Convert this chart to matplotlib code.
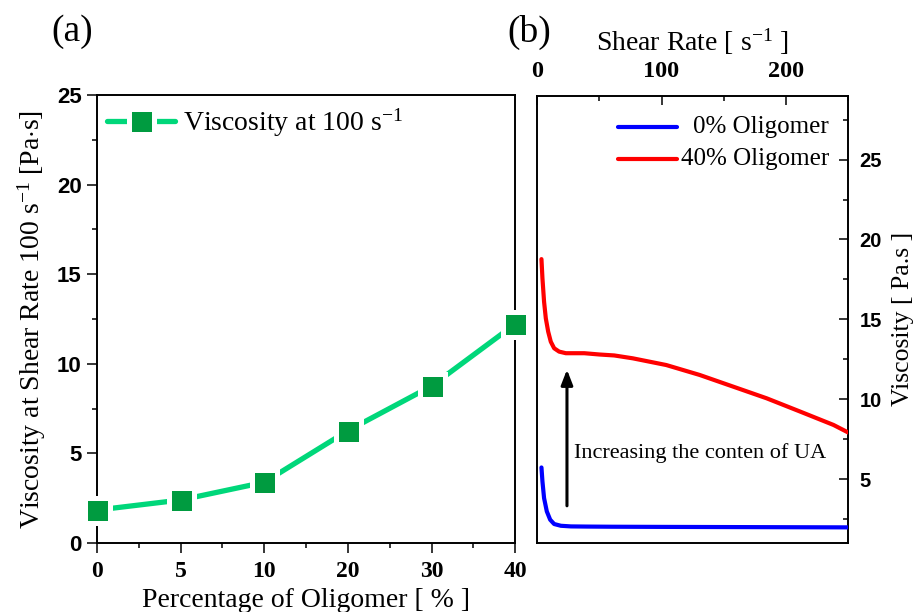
import numpy as np
import matplotlib
matplotlib.use("Agg")
import matplotlib.pyplot as plt
from matplotlib.ticker import MultipleLocator

plt.rcParams["font.family"] = ["Liberation Serif", "DejaVu Serif"]
plt.rcParams["mathtext.fontset"] = "custom"
plt.rcParams["mathtext.rm"] = "Liberation Serif"
plt.rcParams["mathtext.it"] = "Liberation Serif:italic"
plt.rcParams["mathtext.bf"] = "Liberation Serif:bold"

# (a) viscosity at 100 1/s versus oligomer content
oligomer_pct = ["0", "5", "10", "20", "30", "40"]
visc_100 = [1.84, 2.40, 3.39, 6.27, 8.76, 12.22]
visc_ticks = [0, 5, 10, 15, 20, 25]

# (b) flow curves
shear_0 = [3.5, 4.3, 5.6, 7.8, 10.5, 13.7, 19.1, 27.2, 40, 60, 100, 150, 200, 250]
visc_0 = [5.73, 4.85, 3.81, 2.98, 2.46, 2.19, 2.08, 2.04, 2.03, 2.02, 2.01, 2.00, 1.99, 1.98]

shear_40 = [3.5, 4.3, 5.6, 7.0, 8.9, 11.0, 13.7, 17.7, 23.1, 37.9, 50, 62, 76.9,
            103.8, 130.6, 157.5, 184.4, 211.3, 238.2, 250.2]
visc_40 = [18.77, 17.56, 16.10, 15.06, 14.23, 13.60, 13.19, 12.98, 12.88, 12.88,
           12.80, 12.74, 12.56, 12.14, 11.52, 10.79, 10.06, 9.23, 8.39, 7.91]

shear_ticks = [0, 100, 200]
flow_visc_ticks = [5, 10, 15, 20, 25]

SANS_BOLD = dict(fontfamily="Liberation Sans", fontweight="bold")
SERIF_BOLD = dict(fontfamily="Liberation Serif", fontweight="bold")

fig = plt.figure(figsize=(9.15, 6.12), dpi=100)

# ---------------- panel (a) ----------------
ax1 = fig.add_axes([0.106, 0.1127, 0.457, 0.732])
xpos = np.arange(len(oligomer_pct))
ax1.plot(xpos, visc_100, color="#00D77A", lw=3.8, solid_capstyle="round",
         marker="s", ms=18, mfc="#009B40", mec="white", mew=3.6,
         clip_on=False, zorder=3, label="Viscosity at 100 s$^{-1}$")
ax1.set_xlim(0, len(oligomer_pct) - 1)
ax1.set_ylim(0, 25)
ax1.set_xticks(xpos, oligomer_pct, fontsize=17, **SERIF_BOLD)
ax1.set_yticks(visc_ticks, [str(v) for v in visc_ticks], fontsize=16, **SANS_BOLD)
ax1.xaxis.set_minor_locator(MultipleLocator(0.5))
ax1.yaxis.set_minor_locator(MultipleLocator(2.5))
ax1.tick_params(which="both", direction="out", top=False, right=False, width=1.1)
ax1.tick_params(which="major", length=7)
ax1.tick_params(which="minor", length=3.5)
ax1.tick_params(axis="x", which="major", pad=6)
ax1.tick_params(axis="y", which="major", pad=4)
for sp in ax1.spines.values():
    sp.set_linewidth(1.4)
ax1.set_xlabel("Percentage of Oligomer [ % ]", fontsize=20)
ax1.set_ylabel("Viscosity at Shear Rate 100 s$^{-1}$ [Pa$\\cdot$s]", fontsize=20)
ax1.xaxis.set_label_coords(0.5, -0.1)
ax1.yaxis.set_label_coords(-0.118, 0.5)
ax1.legend(loc="upper left", bbox_to_anchor=(0.024, 0.975), frameon=False,
           fontsize=20, handlelength=2.45, handletextpad=0.3, borderpad=0,
           borderaxespad=0)

# ---------------- panel (b) ----------------
ax2 = fig.add_axes([0.587, 0.1127, 0.340, 0.731])
ax2.plot(shear_0, visc_0, color="#0000FF", lw=3.0, solid_capstyle="round", zorder=3)
ax2.plot(shear_40, visc_40, color="#FF0000", lw=3.0, solid_capstyle="round", zorder=3)
ax2.set_xlim(0, 250)
ax2.set_ylim(1.0, 29.0)
ax2.set_xticks(shear_ticks, [str(v) for v in shear_ticks], fontsize=17.5, **SERIF_BOLD)
ax2.set_yticks(flow_visc_ticks, [str(v) for v in flow_visc_ticks], fontsize=14.5,
               **SANS_BOLD)
ax2.xaxis.set_minor_locator(MultipleLocator(50))
ax2.yaxis.set_minor_locator(MultipleLocator(2.5))
ax2.xaxis.set_label_position("top")
ax2.yaxis.set_label_position("right")
ax2.tick_params(which="both", direction="in", bottom=False, left=False,
                labelbottom=False, labelleft=False, top=True, right=True,
                labeltop=True, labelright=True, width=1.1)
ax2.tick_params(which="major", length=6.7)
ax2.tick_params(which="minor", length=3.6)
ax2.tick_params(axis="x", which="major", pad=10)
ax2.tick_params(axis="y", which="major", pad=8)
for sp in ax2.spines.values():
    sp.set_linewidth(1.4)
ax2.set_xlabel("Shear Rate [ s$^{-1}$ ]", fontsize=20)
ax2.set_ylabel("Viscosity [ Pa.s ]", fontsize=18.5)
ax2.xaxis.set_label_coords(0.5, 1.1)
ax2.yaxis.set_label_coords(1.14, 0.5)

# legend keys with right-aligned labels
key_rows = [(0.931, "#0000FF", "0% Oligomer"), (0.859, "#FF0000", "40% Oligomer")]
for ky, kc, ktxt in key_rows:
    ax2.plot([0.26, 0.45], [ky, ky], color=kc, lw=3.0, solid_capstyle="round",
             transform=ax2.transAxes)
    ax2.text(0.939, ky, ktxt, transform=ax2.transAxes, ha="right", va="center",
             fontsize=18)

# arrow and note
ax2.annotate("", xy=(24, 11.85), xytext=(24, 3.33),
             arrowprops=dict(arrowstyle="-|>,head_length=0.9,head_width=0.35",
                             color="black", lw=2.2, shrinkA=0, shrinkB=0))
ax2.text(30, 6.66, "Increasing the conten of UA", fontsize=16, ha="left", va="center")

# panel tags
fig.text(72 / 915, 1 - 32 / 612, "(a)", fontsize=27, ha="center", va="center")
fig.text(529 / 915, 1 - 32 / 612, "(b)", fontsize=27, ha="center", va="center")

fig.savefig("out.png", dpi=100)
